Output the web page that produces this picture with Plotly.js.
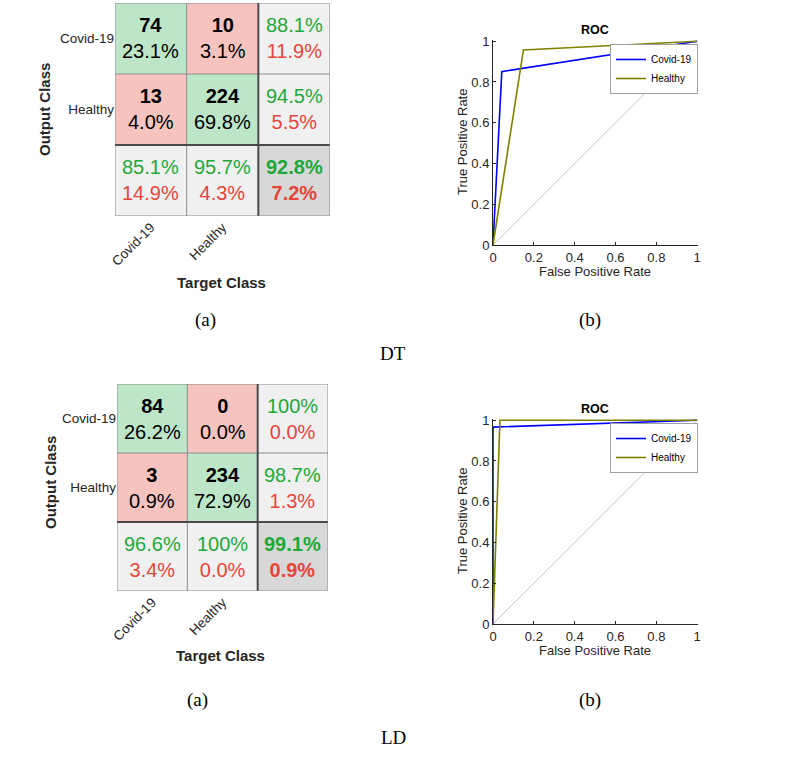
<!DOCTYPE html>
<html>
<head>
<meta charset="utf-8">
<script src="https://cdn.plot.ly/plotly-3.0.1.min.js"></script>
<style>
  html, body { margin: 0; padding: 0; background: #fff; }
  #chart { width: 787px; height: 759px; }
</style>
</head>
<body>
<div id="chart"></div>
<script>
// clases
const classes = ["Covid-19", "Healthy"];

// DT - matriz de confusion
const dtCounts = [[74, 10], [13, 224]];
const dtPct = [[23.1, 3.1], [4.0, 69.8]];
const dtRowAcc = [88.1, 94.5];
const dtRowErr = [11.9, 5.5];
const dtColAcc = [85.1, 95.7];
const dtColErr = [14.9, 4.3];
const dtTotalAcc = 92.8;
const dtTotalErr = 7.2;

// LD - matriz de confusion
const ldCounts = [[84, 0], [3, 234]];
const ldPct = [[26.2, 0.0], [0.9, 72.9]];
const ldRowAcc = [100, 98.7];
const ldRowErr = [0.0, 1.3];
const ldColAcc = [96.6, 100];
const ldColErr = [3.4, 0.0];
const ldTotalAcc = 99.1;
const ldTotalErr = 0.9;

// curvas ROC
const dtCovidFpr = [0, 0.043, 1];
const dtCovidTpr = [0, 0.851, 1];
const dtHealthyFpr = [0, 0.149, 1];
const dtHealthyTpr = [0, 0.957, 1];
const ldCovidFpr = [0, 0, 1];
const ldCovidTpr = [0, 0.966, 1];
const ldHealthyFpr = [0, 0.034, 1];
const ldHealthyTpr = [0, 1, 1];
const diagX = [0, 1];
const diagY = [0, 1];

const W = 787, H = 759;
const px = x => x / W;
const py = y => 1 - y / H;

const SANS = "Liberation Sans, Arial, sans-serif";
const SERIF = "Liberation Serif, Times New Roman, serif";
const GREEN_TXT = "#1fa83a";
const RED_TXT = "#e5453b";
const TXT = "#262626";

const fmt = v => (v === 100 ? "100" : v.toFixed(1)) + "%";

const traces = [];
const annotations = [];
const shapes = [];

function addConfusion(xa, ya, counts, pct, rowAcc, rowErr, colAcc, colErr, totAcc, totErr) {
    const n = classes.length;
    // categorias de color: 0 verde, 1 rojo, 2 gris claro, 3 gris oscuro
    const z = [];
    for (let i = 0; i <= n; i++) {
        const row = [];
        for (let j = 0; j <= n; j++) {
            if (i === n && j === n) row.push(3);
            else if (i === n || j === n) row.push(2);
            else row.push(i === j ? 0 : 1);
        }
        z.push(row);
    }
    const idx = [...Array(n + 1).keys()];
    traces.push({
        type: "heatmap", x: idx, y: idx, z: z,
        xaxis: xa, yaxis: ya, zmin: 0, zmax: 3, showscale: false, hoverinfo: "skip",
        colorscale: [[0, "#bde5c8"], [0.25, "#bde5c8"], [0.25, "#f7c3bf"], [0.5, "#f7c3bf"],
                     [0.5, "#f0f0f0"], [0.75, "#f0f0f0"], [0.75, "#d8d8d8"], [1, "#d8d8d8"]]
    });

    for (let i = 0; i <= n; i++) {
        for (let j = 0; j <= n; j++) {
            let text;
            if (i < n && j < n) {
                text = `<b>${counts[i][j]}</b><br>${fmt(pct[i][j])}`;
            } else if (i < n) {
                text = `<span style="color:${GREEN_TXT}">${fmt(rowAcc[i])}</span><br><span style="color:${RED_TXT}">${fmt(rowErr[i])}</span>`;
            } else if (j < n) {
                text = `<span style="color:${GREEN_TXT}">${fmt(colAcc[j])}</span><br><span style="color:${RED_TXT}">${fmt(colErr[j])}</span>`;
            } else {
                text = `<span style="color:${GREEN_TXT}"><b>${fmt(totAcc)}</b></span><br><span style="color:${RED_TXT}"><b>${fmt(totErr)}</b></span>`;
            }
            annotations.push({
                xref: xa, yref: ya, x: j, y: i, text: text, showarrow: false,
                font: { family: SANS, size: 20, color: "#000" }, xanchor: "center", yanchor: "middle"
            });
        }
    }

    // lineas de la rejilla
    for (let k = 0; k <= n + 1; k++) {
        const dark = k === n;
        const line = { color: dark ? "#4a4a4a" : "#8c8c8c", width: dark ? 2 : 1 };
        shapes.push({ type: "line", xref: xa, yref: ya, x0: k - 0.5, x1: k - 0.5, y0: -0.5, y1: n + 0.5, line: line, layer: "above" });
        shapes.push({ type: "line", xref: xa, yref: ya, x0: -0.5, x1: n + 0.5, y0: k - 0.5, y1: k - 0.5, line: line, layer: "above" });
    }
}

function addRoc(xa, ya, legend, cFpr, cTpr, hFpr, hTpr) {
    traces.push({ x: diagX, y: diagY, xaxis: xa, yaxis: ya, mode: "lines", showlegend: false,
        line: { color: "#c4c4c4", width: 1 }, hoverinfo: "skip" });
    traces.push({ x: cFpr, y: cTpr, xaxis: xa, yaxis: ya, mode: "lines", name: "Covid-19", legend: legend,
        line: { color: "#0000ff", width: 1.6 } });
    traces.push({ x: hFpr, y: hTpr, xaxis: xa, yaxis: ya, mode: "lines", name: "Healthy", legend: legend,
        line: { color: "#808000", width: 1.6 } });
}

addConfusion("x", "y", dtCounts, dtPct, dtRowAcc, dtRowErr, dtColAcc, dtColErr, dtTotalAcc, dtTotalErr);
addRoc("x2", "y2", "legend", dtCovidFpr, dtCovidTpr, dtHealthyFpr, dtHealthyTpr);
addConfusion("x3", "y3", ldCounts, ldPct, ldRowAcc, ldRowErr, ldColAcc, ldColErr, ldTotalAcc, ldTotalErr);
addRoc("x4", "y4", "legend2", ldCovidFpr, ldCovidTpr, ldHealthyFpr, ldHealthyTpr);

function cmX(domain, anchor) {
    return { domain: domain, anchor: anchor, range: [-0.5, 2.5], showgrid: false, zeroline: false,
        tickvals: [0, 1], ticktext: classes, tickangle: -45, ticks: "", showline: false,
        tickfont: { family: SANS, size: 13.5, color: TXT }, fixedrange: true };
}
function cmY(domain, anchor) {
    return { domain: domain, anchor: anchor, range: [2.5, -0.5], showgrid: false, zeroline: false,
        tickvals: [0, 1], ticktext: classes, ticks: "", showline: false,
        tickfont: { family: SANS, size: 13.5, color: TXT }, fixedrange: true };
}
function rocAxis(domain, anchor, range) {
    return { domain: domain, anchor: anchor, range: range, showgrid: false, zeroline: false,
        showline: true, linecolor: TXT, linewidth: 1, mirror: false,
        ticks: "inside", ticklen: 3, tickcolor: TXT, tick0: 0, dtick: 0.2,
        tickfont: { family: SANS, size: 13, color: TXT }, fixedrange: true };
}

// titulos y etiquetas como anotaciones en pixeles
function label(text, x, y, size, opts) {
    annotations.push(Object.assign({ xref: "paper", yref: "paper", x: px(x), y: py(y), text: text,
        showarrow: false, xanchor: "center", yanchor: "middle",
        font: { family: SANS, size: size, color: TXT } }, opts || {}));
}

label("<b>Output Class</b>", 45, 110, 15, { textangle: -90 });
label("<b>Target Class</b>", 222, 283, 15);
label("<b>Output Class</b>", 50, 483, 15, { textangle: -90 });
label("<b>Target Class</b>", 220, 655, 15);

const roc = { font: { family: SANS, size: 12.5, color: "#000" } };
label("<b>ROC</b>", 595, 30, 12.5, roc);
label("False Positive Rate", 595, 271, 13);
label("True Positive Rate", 462, 142, 13, { textangle: -90 });
label("<b>ROC</b>", 595, 409, 12.5, roc);
label("False Positive Rate", 595, 650, 13);
label("True Positive Rate", 462, 521, 13, { textangle: -90 });

const serif = { font: { family: SERIF, size: 19, color: "#000" } };
label("(a)", 205, 320, 19, serif);
label("(b)", 590, 320, 19, serif);
label("DT", 393, 353, 19, serif);
label("(a)", 197, 700, 19, serif);
label("(b)", 590, 700, 19, serif);
label("LD", 393, 737, 19, serif);

const legendStyle = { xanchor: "right", yanchor: "top", bgcolor: "#fff", bordercolor: "#a0a0a0",
    borderwidth: 1, itemwidth: 30, tracegroupgap: 0,
    font: { family: SANS, size: 10, color: "#000" } };

const layout = {
    width: W, height: H,
    margin: { l: 0, r: 0, t: 0, b: 0 },
    paper_bgcolor: "#fff", plot_bgcolor: "#fff",
    xaxis: cmX([px(115), px(330)], "y"),
    yaxis: cmY([py(216), py(3)], "x"),
    xaxis2: rocAxis([px(493), px(698)], "y2", [0, 1.004]),
    yaxis2: rocAxis([py(245), py(40)], "x2", [0, 1.006]),
    xaxis3: cmX([px(117), px(328)], "y3"),
    yaxis3: cmY([py(591), py(384)], "x3"),
    xaxis4: rocAxis([px(493), px(698)], "y4", [0, 1.004]),
    yaxis4: rocAxis([py(624), py(419)], "x4", [0, 1.006]),
    legend: Object.assign({ x: px(698), y: py(44) }, legendStyle),
    legend2: Object.assign({ x: px(698), y: py(423) }, legendStyle),
    annotations: annotations,
    shapes: shapes,
    showlegend: true
};

Plotly.newPlot("chart", traces, layout, { displayModeBar: false, staticPlot: true });
</script>
</body>
</html>
